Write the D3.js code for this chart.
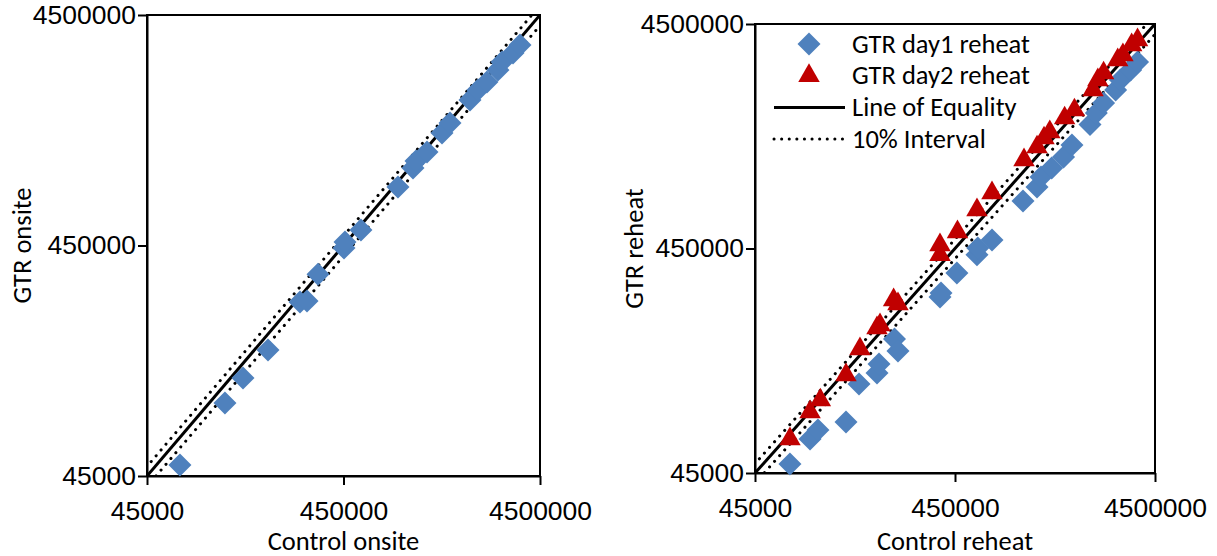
<!DOCTYPE html>
<html>
<head>
<meta charset="utf-8">
<script src="https://cdn.jsdelivr.net/npm/d3@7"></script>
<style>
  body { margin: 0; background: #fff; }
  svg { font-family: Carlito, "Liberation Sans Narrow", Roboto, sans-serif; }
</style>
</head>
<body>
<div id="chart"></div>
<script>
// 1: DATA
const tickVals = [45000, 450000, 4500000];

// left panel: onsite
const onsiteControl = [66200, 112200, 138600, 185800, 270300, 293500, 333800, 452600, 458000, 552000,
  852000, 1016000, 1052000, 1197000, 1427000, 1567000, 1981000, 2174000, 2417000, 2750000,
  2883000, 3280000, 3560000];
const onsiteGTR = [50200, 93300, 119800, 158500, 256000, 258400, 338000, 438800, 466000, 525000,
  807000, 976000, 1047000, 1146000, 1385000, 1529000, 1925000, 2128000, 2304000, 2597000,
  2813000, 3078000, 3335000];

// right panel: reheat, day 1
const day1Control = [67300, 84800, 92900, 128300, 149000, 183300, 187600, 224300, 233400, 378600,
  383000, 460000, 579600, 585000, 689000, 984600, 1157000, 1211000, 1370000, 1570000,
  1730000, 2129000, 2290000, 2490000, 2860000, 3020000, 3400000, 3681000];
const day1GTR = [49400, 63800, 69900, 75900, 112100, 125500, 137600, 177900, 157300, 273600,
  285100, 350200, 421600, 452300, 491000, 732600, 845600, 937000, 1028000, 1150000,
  1301000, 1604000, 1807000, 2002000, 2287000, 2534000, 2807000, 3047000];

// right panel: reheat, day 2
const day2Control = [67300, 84800, 95500, 128300, 150700, 183300, 189800, 222000, 233400, 378600,
  378600, 463000, 579600, 689000, 996000, 1157000, 1254000, 1340000, 1590000, 1780000,
  2204000, 2330000, 2490000, 2930000, 3110000, 3440000, 3681000];
const day2GTR = [63800, 84100, 95100, 123000, 160500, 199100, 205300, 265400, 254700, 421600,
  466600, 533000, 668000, 795000, 1116000, 1274000, 1397000, 1486000, 1714000, 1862000,
  2287000, 2534000, 2721000, 3110000, 3276000, 3627000, 3821000];

const legendLabels = ["GTR day1 reheat", "GTR day2 reheat", "Line of Equality", "10% Interval"];

const blue = "#4F81BD";
const red = "#C00000";
const fontSize = "26.5px";

// 2: SVG
const svg = d3.select("#chart").append("svg")
  .attr("width", 1217)
  .attr("height", 556);

const diamond = d3.symbol(d3.symbolSquare, 265);
const triangle = d3.symbol(d3.symbolTriangle, 200);

function panel(id, box, series, xTitle, yTitle, yTitleX) {
  const x = d3.scaleLog().domain([45000, 4500000]).range([box.left, box.right]);
  const y = d3.scaleLog().domain([45000, 4500000]).range([box.bottom, box.top]);

  svg.append("clipPath").attr("id", id)
    .append("rect")
    .attr("x", box.left).attr("y", box.top)
    .attr("width", box.right - box.left).attr("height", box.bottom - box.top);

  const g = svg.append("g");
  const plot = g.append("g").attr("clip-path", `url(#${id})`);

  // equality + 10% lines
  const ends = [45000 / 1.2, 4500000 * 1.2];
  const line = k => d3.line().x(d => x(d)).y(d => y(d * k))(ends);

  [1.1, 0.9].forEach(k => {
    plot.append("path").attr("d", line(k))
      .attr("fill", "none").attr("stroke", "#000").attr("stroke-width", 3)
      .attr("stroke-dasharray", "0.1 7.5").attr("stroke-linecap", "round");
  });
  plot.append("path").attr("d", line(1))
    .attr("fill", "none").attr("stroke", "#000").attr("stroke-width", 3);

  // frame
  g.append("rect")
    .attr("x", box.left).attr("y", box.top)
    .attr("width", box.right - box.left).attr("height", box.bottom - box.top)
    .attr("fill", "none").attr("stroke", "#000").attr("stroke-width", 2);

  // axes
  const xAxis = g.append("g")
    .attr("transform", `translate(0,${box.bottom})`)
    .call(d3.axisBottom(x).tickValues(tickVals).tickFormat(d3.format("d"))
      .tickSize(9).tickSizeOuter(0).tickPadding(16));
  const yAxis = g.append("g")
    .attr("transform", `translate(${box.left},0)`)
    .call(d3.axisLeft(y).tickValues(tickVals).tickFormat(d3.format("d"))
      .tickSize(9).tickSizeOuter(0).tickPadding(2));
  [xAxis, yAxis].forEach(a => {
    a.select(".domain").attr("stroke", "#000").attr("stroke-width", 2);
    a.selectAll(".tick line").attr("stroke", "#000").attr("stroke-width", 2);
    a.selectAll(".tick text").attr("fill", "#000").style("font-size", fontSize)
      .style("font-family", null);
  });

  // markers
  series.forEach(s => {
    g.append("g").selectAll("path")
      .data(s.xs.map((v, i) => [v, s.ys[i]]))
      .join("path")
      .attr("d", s.sym === "diamond" ? diamond : triangle)
      .attr("transform", d => `translate(${x(d[0])},${y(d[1])})` + (s.sym === "diamond" ? " rotate(45)" : ""))
      .attr("fill", s.color);
  });

  // titles
  g.append("text")
    .attr("x", (box.left + box.right) / 2)
    .attr("y", 550)
    .attr("text-anchor", "middle")
    .style("font-size", fontSize)
    .text(xTitle);
  g.append("text")
    .attr("transform", "rotate(-90)")
    .attr("x", -(box.top + box.bottom) / 2)
    .attr("y", yTitleX)
    .attr("text-anchor", "middle")
    .style("font-size", fontSize)
    .text(yTitle);
  return g;
}

panel("clipL", { left: 147, right: 540, top: 15, bottom: 476 },
  [{ xs: onsiteControl, ys: onsiteGTR, sym: "diamond", color: blue }],
  "Control onsite", "GTR onsite", 31);

panel("clipR", { left: 755, right: 1155, top: 24, bottom: 473 },
  [{ xs: day1Control, ys: day1GTR, sym: "diamond", color: blue },
   { xs: day2Control, ys: day2GTR, sym: "triangle", color: red }],
  "Control reheat", "GTR reheat", 643);

// legend
const legend = svg.append("g").attr("transform", "translate(774,44)");
legendLabels.forEach((lab, i) => {
  const yy = i * 31.7;
  if (i === 0) {
    legend.append("path").attr("d", diamond)
      .attr("transform", `translate(35,${yy}) rotate(45)`).attr("fill", blue);
  } else if (i === 1) {
    legend.append("path").attr("d", triangle)
      .attr("transform", `translate(35,${yy})`).attr("fill", red);
  } else {
    legend.append("line")
      .attr("x1", 0).attr("x2", 71).attr("y1", yy).attr("y2", yy)
      .attr("stroke", "#000").attr("stroke-width", 3)
      .attr("stroke-dasharray", i === 3 ? "0.1 7.5" : null)
      .attr("stroke-linecap", i === 3 ? "round" : null);
  }
  legend.append("text")
    .attr("x", 78)
    .attr("y", yy + 8.5)
    .style("font-size", fontSize)
    .text(lab);
});
</script>
</body>
</html>
